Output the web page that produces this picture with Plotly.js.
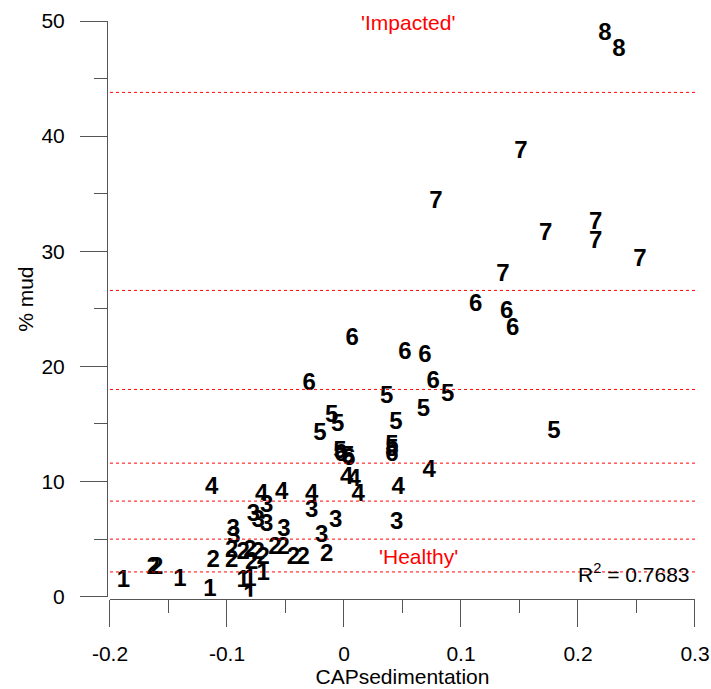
<!DOCTYPE html>
<html>
<head>
<meta charset="utf-8">
<script src="https://cdn.plot.ly/plotly-3.0.1.min.js"></script>
<style>html,body{margin:0;padding:0;background:#fff;}#chart{width:711px;height:689px;}</style>
</head>
<body>
<div id="chart"></div>
<script>
// Group label of each site (plotted as the marker text)
const groups = [
  1,1,1,1,1,1,1,
  2,2,2,2,2,2,2,2,2,2,2,2,2,2,2,
  3,3,3,3,3,3,3,3,3,3,3,
  4,4,4,4,4,4,4,4,4,
  5,5,5,5,5,5,5,5,5,5,5,5,
  6,6,6,6,6,6,6,6,6,6,6,
  7,7,7,7,7,7,7,
  8,8
];
// CAPsedimentation (x)
const capSed = [
  -0.1886,-0.1402,-0.1145,-0.0861,-0.0803,-0.0690,-0.0803,
  -0.1630,-0.1601,-0.1117,-0.0960,-0.0960,-0.0861,-0.0803,-0.0789,-0.0733,-0.0690,-0.0590,-0.0519,-0.0433,-0.0348,-0.0148,
  -0.0946,-0.0940,-0.0775,-0.0733,-0.0661,-0.0661,-0.0513,-0.0276,-0.0191,-0.0071,0.0450,
  -0.1131,-0.0703,-0.0532,-0.0276,0.0023,0.0088,0.0122,0.0464,0.0729,
  -0.0205,-0.0105,-0.0054,-0.0034,0.0034,0.0365,0.0410,0.0410,0.0444,0.0678,0.0886,0.1795,
  -0.0297,-0.0026,0.0043,0.0071,0.0410,0.0521,0.0692,0.0763,0.1126,0.1391,0.1442,
  0.0786,0.1359,0.1513,0.1724,0.2151,0.2151,0.2530,
  0.2231,0.2350
];
// % mud (y)
const mud = [
  1.34,1.49,0.62,1.34,1.49,1.93,0.04,
  2.51,2.51,3.08,3.08,3.95,3.81,3.95,2.94,3.81,3.37,4.24,4.24,3.37,3.37,3.66,
  5.83,5.22,7.13,6.55,7.85,6.26,5.83,7.42,5.25,6.55,6.41,
  9.44,8.86,9.01,8.86,10.31,10.16,8.86,9.44,10.88,
  14.15,15.72,14.93,12.59,12.16,17.34,13.11,12.77,15.08,16.24,17.54,14.27,
  18.49,12.33,11.99,22.37,12.33,21.15,20.92,18.69,25.34,24.71,23.26,
  34.29,27.95,38.62,31.50,32.43,30.83,29.25,
  48.91,47.46
];
// Horizontal reference levels (% mud)
const thresholds = [43.8, 26.6, 18.0, 11.6, 8.3, 5.0, 2.15];
const xRange = [-0.2, 0.3];
const yRange = [0, 50];
const xTicks = [-0.2, -0.1, 0, 0.1, 0.2, 0.3];
const xTickText = ['-0.2', '-0.1', '0', '0.1', '0.2', '0.3'];
const yTicks = [0, 10, 20, 30, 40, 50];
const rSquared = '0.7683';

const FONT = 'Liberation Sans, Arial, sans-serif';
const AX = '#555555';

const trace = {
  type: 'scatter',
  mode: 'text',
  x: capSed,
  y: mud,
  text: groups.map(String),
  textposition: 'middle center',
  textfont: {family: FONT, size: 24, color: '#000', weight: 'bold'},
  hoverinfo: 'x+y+text',
  showlegend: false
};

const shapes = thresholds.map(v => ({
  type: 'line', xref: 'x', yref: 'y',
  x0: xRange[0], x1: xRange[1], y0: v, y1: v,
  line: {color: 'red', width: 1, dash: 'dot'}
}));

const layout = {
  width: 711, height: 689,
  margin: {l: 107, r: 16, t: 21, b: 90},
  paper_bgcolor: '#fff', plot_bgcolor: '#fff',
  font: {family: FONT, size: 21, color: '#000'},
  xaxis: {
    range: xRange, domain: [0.0051, 1], anchor: 'free', position: 0,
    tickvals: xTicks, ticktext: xTickText,
    ticks: 'outside', ticklen: 27, tickwidth: 1, tickcolor: AX,
    minor: {dtick: 0.05, tick0: 0, ticks: 'outside', ticklen: 13, tickwidth: 1, tickcolor: AX, showgrid: false},
    showline: true, linecolor: AX, linewidth: 1,
    showgrid: false, zeroline: false,
    ticklabelstandoff: 9,
    tickfont: {family: FONT, size: 21, color: '#000'},
    title: {text: 'CAPsedimentation', font: {family: FONT, size: 21, color: '#000'}, standoff: 5}
  },
  yaxis: {
    range: yRange, domain: [0.004, 1], anchor: 'free', position: 0,
    tickvals: yTicks,
    ticks: 'outside', ticklen: 27, tickwidth: 1, tickcolor: AX,
    minor: {dtick: 5, tick0: 0, ticks: 'outside', ticklen: 13, tickwidth: 1, tickcolor: AX, showgrid: false},
    showline: true, linecolor: AX, linewidth: 1,
    showgrid: false, zeroline: false,
    ticklabelstandoff: 11,
    tickfont: {family: FONT, size: 21, color: '#000'}
  },
  shapes: shapes,
  annotations: [
    {x: -0.139, y: 0.518, xref: 'paper', yref: 'paper', text: '% mud', textangle: -90, showarrow: false,
     font: {family: FONT, size: 21, color: '#000'}, xanchor: 'center', yanchor: 'middle'},
    {x: 0.0547, y: 49.9, xref: 'x', yref: 'y', text: "'Impacted'", showarrow: false,
     font: {family: FONT, size: 21, color: 'red'}, xanchor: 'center', yanchor: 'middle'},
    {x: 0.0633, y: 3.51, xref: 'x', yref: 'y', text: "'Healthy'", showarrow: false,
     font: {family: FONT, size: 21, color: 'red'}, xanchor: 'center', yanchor: 'middle'},
    {x: 0.2974, y: 2.07, xref: 'x', yref: 'y', text: 'R<sup>2</sup> = ' + rSquared, showarrow: false,
     font: {family: FONT, size: 21, color: '#000'}, xanchor: 'right', yanchor: 'middle'}
  ]
};

Plotly.newPlot('chart', [trace], layout, {staticPlot: true, displayModeBar: false});
</script>
</body>
</html>
